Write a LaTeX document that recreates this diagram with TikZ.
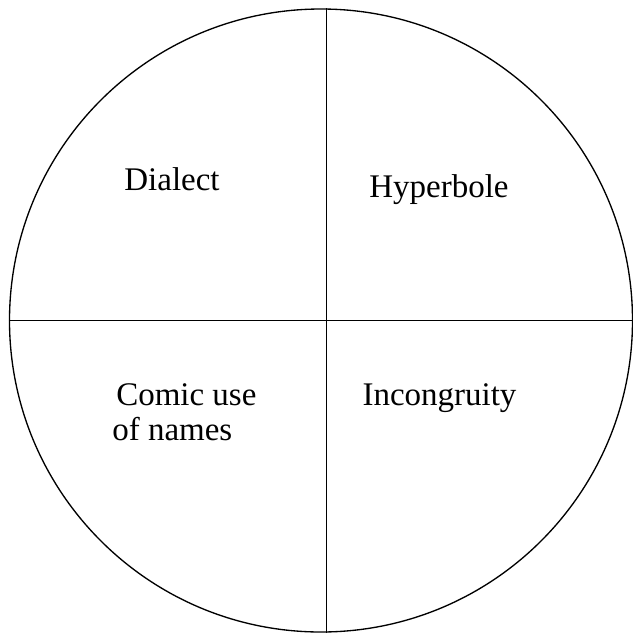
\documentclass[tikz,border=0pt]{standalone}
\usepackage{fontspec}
\setmainfont{Liberation Serif}
\usetikzlibrary{positioning,calc}

\begin{document}
\begin{tikzpicture}[
  x=0.75pt, y=-0.75pt,
  rim/.style={circle, draw, line width=1pt, inner sep=0pt,
              minimum size=467.25pt},
  divider/.style={line width=0.8pt, black},
  part/.style={inner sep=0pt, font=\fontsize{24.75}{26.25}\selectfont}
]
\useasboundingbox (0,0) rectangle (633,633);

\node[rim] (disc) at (321,320.5) {};

\node[part, anchor=base] (dialect)  at (172,190)   {Dialect};
\node[part, anchor=base] (hyper)    at (439,197)   {Hyperbole};
\node[part, anchor=base west, align=left] (comic) at (112,440) {\hspace{3pt}Comic use\\of names};
\node[part, anchor=base] (incong)   at (439.5,405) {Incongruity};

\draw[divider] (disc.89.8)   -- (disc.-89.8);
\draw[divider] (disc.180.64) -- (disc.-0.64);

\end{tikzpicture}
\end{document}
